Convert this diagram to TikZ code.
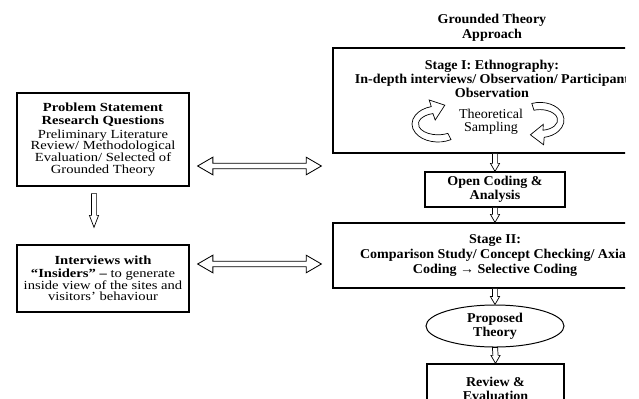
\documentclass[tikz,border=0pt]{standalone}
\usepackage{fontspec}
\setmainfont{Liberation Serif}
\newfontfamily\lfont{Liberation Serif}[Ligatures=TeX,FakeStretch=1.18]
\newfontfamily\rfont{Liberation Serif}[Ligatures=TeX,FakeStretch=1.04]
\usetikzlibrary{positioning,calc,shapes.geometric}

\begin{document}
\begin{tikzpicture}[
  box/.style={draw,line width=0.9pt,align=center,inner sep=1pt,
    font={\rfont\fontsize{9.6}{10}\selectfont\bfseries}},
  lbox/.style={box,font={\lfont\fontsize{8.8}{8.3}\selectfont\lineskiplimit=-5pt}},
  txt/.style={align=center,inner sep=0pt,font={\rfont\fontsize{9.6}{10}\selectfont\bfseries}},
  cyc/.style={draw,fill=white,line width=0.5pt},
  dblarrow/.style={draw,fill=white,line width=0.6pt,
    to path={-- ++(0.38,0.22) -- ++(0,-0.15) -- ($(\tikztotarget)+(-0.38,0.07)$) -- ++(0,0.15)
      -- (\tikztotarget) -- ++(-0.38,-0.22) -- ++(0,0.15) -- ($(\tikztostart)+(0.38,-0.07)$) -- ++(0,-0.15) -- cycle}},
  hdown/.style={draw,fill=white,line width=0.5pt,
    to path={++(-0.065,0) -- ($(\tikztotarget)+(-0.065,#1)$) -- ++(-0.05,0) -- (\tikztotarget)
      -- ++(0.115,#1) -- ++(-0.05,0) -- ($(\tikztostart)+(0.065,0)$) -- cycle}},
  hdown/.default=0.2]
  \useasboundingbox (0,0) rectangle (15.975,9.95);
  \clip (0,0) rectangle (15.625,9.95);
  \node[txt,font={\rfont\fontsize{9.6}{10.5}\selectfont\bfseries}] (gt) at (12.3,9.2625) {Grounded Theory\\Approach};
  \node[box,minimum width=8.1cm,minimum height=2.625cm] (s1) at (12.375,7.4375) {};
  \node[txt] (s1t) at (12.3,7.975) {Stage I: Ethnography:\\In-depth interviews/ Observation/ Participant\\Observation};
  \node[txt,font={\rfont\fontsize{9.6}{9.3}\selectfont}] (ts) at (12.275,6.9125) {Theoretical\\Sampling};
  \draw[cyc,shift={(10.95,6.85)}] (300:0.65 and 0.45) arc[start angle=300,end angle=105,x radius=0.65,y radius=0.45]
    -- (-0.22,0.6) -- (0.17,0.47) -- (-0.07,0.1) -- (105:0.49 and 0.27)
    arc[start angle=105,end angle=300,x radius=0.49,y radius=0.27] -- cycle;
  \draw[cyc,shift={(13.5,6.95)}] (110:0.6 and 0.44) arc[start angle=110,end angle=-80,x radius=0.6,y radius=0.44]
    -- (0.09,-0.62) -- (-0.24,-0.37) -- (0.08,-0.11) -- (-80:0.44 and 0.26)
    arc[start angle=-80,end angle=110,x radius=0.44,y radius=0.26] -- cycle;
  \node[box,minimum width=3.5cm,minimum height=0.875cm] (oc) at (12.375,5.2125) {Open Coding \&\\Analysis};
  \node[box,minimum width=8.1cm,minimum height=1.625cm,font={\rfont\fontsize{9.6}{10.4}\selectfont\bfseries}] (s2) at (12.375,3.5625)
    {Stage II:\\Comparison Study/ Concept Checking/ Axial\\Coding → Selective Coding};
  \node[box,ellipse,line width=0.7pt,inner sep=0pt,minimum width=3.45cm,minimum height=1.05cm] (pt) at (12.375,1.8) {Proposed\\Theory};
  \node[box,minimum width=3.425cm,minimum height=1.25cm] (rev) at (12.3875,0.225) {Review \&\\Evaluation};
  \node[lbox,minimum width=4.3cm,minimum height=2.325cm] (prob) at (2.575,6.4625)
    {\textbf{Problem Statement}\\[1pt]\textbf{Research Questions}\\[1pt]Preliminary Literature\\Review/ Methodological\\Evaluation/ Selected of\\Grounded Theory};
  \node[lbox,minimum width=4.3cm,minimum height=1.675cm] (int) at (2.575,2.9875)
    {\textbf{Interviews with}\\[1pt]\textbf{``Insiders'' --} to generate\\inside view of the sites and\\visitors' behaviour};
  \path (prob.south) ++(-0.225,-0.175) coordinate (pd);
  \path (int.north) ++(-0.225,0.425) coordinate (iu);
  \draw[hdown=0.3] (pd) to (iu);
  \draw[hdown] (s1.south) to (oc.north);
  \draw[hdown] (oc.south) to (s2.north);
  \draw[hdown] (s2.south) to (pt.north);
  \draw[hdown] (pt.south) to (rev.north);
  \path (prob.east) ++(0.2,-0.6625) coordinate (pa);
  \path (s1.west) ++(-0.275,-1.6375) coordinate (sa);
  \draw[dblarrow] (pa) to (sa);
  \path (int.east) ++(0.2,0.3625) coordinate (ia);
  \path (s2.west) ++(-0.275,-0.2125) coordinate (sb);
  \draw[dblarrow] (ia) to (sb);
\end{tikzpicture}
\end{document}
